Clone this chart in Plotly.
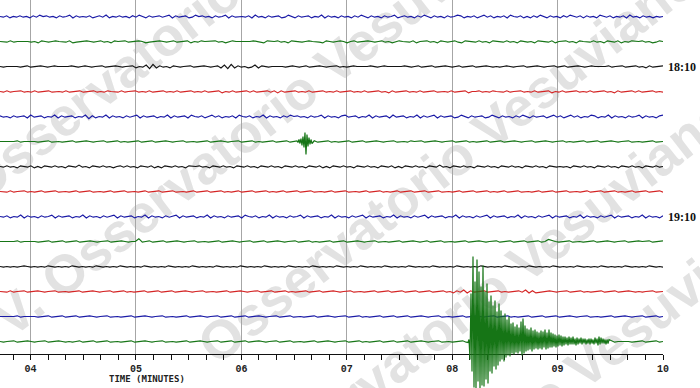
import numpy as np
import plotly.graph_objects as go

# ---------------- data ----------------
X_MIN, X_MAX = 3.71, 10.0            # minutes shown on the time axis
TICK_START, TICK_STEP = 4, 1         # labelled minutes 04 ... 10
MINOR_STEP = 1 / 6                   # 10-second ticks
ROW_COLORS = ["#1a1aa6", "#167516", "#141414", "#d42424"]   # blue, green, black, red
HOUR_ROWS = [2, 8]
HOUR_LABELS = ["18:10", "19:10"]
AXIS_TITLE = "TIME (MINUTES)"
WATERMARK = "Osservatorio Vesuviano"

# background noise of each trace, one digit per sample, offset = (digit - 4) noise steps
ROW_NOISE = [
    "4536453546352435463542635453643526453" "5463524635435426354365243546354263544"
    "5362546354365246354364526354635463524" "6354635426435463524635463542364536425"
    "3645362453646352463546352453635462453" "6453625463546454",
    "4453544345463454344536544345435463443" "5443465443454354436453444354653445443"
    "4563443546344543445634543464354434543" "5464344536443546345435634453546344535"
    "4634546344536443546344535463453645344" "3546534",
    "4544345435443454344543454345443544345" "4436452716354634544354434543627163546"
    "5263454434543454354434544354543445434" "5434454434543544354434543544354434545"
    "4345443544345443543544345434454354435" "44354635443",
    "4535443545354435445354435443545344535" "4435453544354535443545354436453544353"
    "5443536354435453544354535443545354435" "4635443545354435445354436443545344535"
    "4435453544364535443545354435463544353" "5443545",
    "3546354362543645263543645273645263546" "3542635436452635436245364253645362453"
    "6452635463524354635426354632543645263" "5436254364526354263543652463543652463"
    "5463524635436425364253645236452635463" "5426354632",
    "4454435443454435445443544345443544354" "5443544354434544354454435443454435443"
    "5454435443543454435443545443544354434" "5443544534435443454435443545443544354"
    "4345443544345443545443544354434544354" "45443544",
    "4535463453646345354634525463453546435" "3546345364634535463443546345354634535"
    "4634535463453546345364634535463453546" "3453646345354634525463453546345354634"
    "5354634535463454546345354634535463453" "546345354",
    "4453544354543544354454354435445435443" "5445435443544354454354435443545435443"
    "5443545435443544354454354435445435443" "5454354435443544354454354435443545435"
    "4435445435443544354454354435443545435" "44354435",
    "4536452635463542635436452635463542635" "4364526354635426354364526354635436245"
    "3645263546354263543645263546354263543" "6452635463542635436452635463542635436"
    "4526354635426354364526354635426354364" "52635463",
    "4454435443454435443544354434544354434" "5440543544354434544354454435443454435"
    "4435443454435443545443544354434544354" "4544354434543544354454435443454435443"
    "5443544354134544354454435443454435443" "4435443",
    "4545454345454534545453454545345454534" "5454534545453454545345454534545453454"
    "5453454545345454534545453454545345454" "5345454534545453454545345454534545453"
    "4545453454545345454534545453454545345" "454534545",
    "4453544354434544354454435443454435443" "5454435443544354434544354454435443454"
    "4354435443545443544354434544354454435" "4435443544354435443546352635443544354"
    "5443526365443454435443545443544354434" "545443544",
    "4454435443454435443544354434544354454" "4354434544354454435443454435443544354"
    "4345443544354454435443454435443545443" "5443544354434544354454435443454435443"
    "5454435443544354434544354454435443454" "43544354",
    "4544354434544354434545435443544354454" "4354434544354454435443454435443544354"
    "4345443544354454435443454435443545443" "5443544354434544354454435443454435443"
    "5454435443544354434544354454435443454" "43544354",
]

SAMPLE_DT = 1 / 105.4                # minutes per sample of the event records
EVENT_ROW = 5
EVENT_T0 = 6.537
EVENT_PX = [1, -2, 2, -3, 4, -5, 6, -9, 13, -7, 5, -4, 3, -2, 2]
QUAKE_ROW = 13
QUAKE_T0 = 8.150
QUAKE_PX = [
    1, -2, 18, -48, 30, -85, 46, -60, 48, -82,
    40, -70, 47, -55, 44, -76, 45, -50, 38, -58,
    42, -40, 30, -46, 32, -36, 25, -41, 28, -30,
    24, -38, 20, -31, 18, -26, 20, -28, 16, -22,
    14, -25, 15, -18, 12, -19, 13, -15, 11, -17,
    12, -14, 10, -20, 14, -23, 12, -16, 10, -13,
    9, -12, 8, -14, 10, -11, 8, -12, 7, -10,
    8, -9, 7, -11, 8, -10, 6, -12, 8, -9,
    7, -12, 6, -9, 6, -8, 5, -7, 6, -6,
    5, -7, 4, -6, 5, -5, 4, -5, 3, -4,
    4, -5, 3, -4, 3, -5, 3, -3, 4, -4,
    3, -3, 2, -4, 3, -3, 2, -3, 3, -2,
    2, -3, 3, -3, 2, -2, 3, -4, 2, -3,
    4, -5, 3, -4, 2, -3, 2, -2, 3, -2,
    2, -2,
]

# ---------------- layout constants ----------------
W, H = 700, 388
PLOT_W = 663           # plot area width in px
AXIS_Y_PX = 354        # x-axis line position (px from top)
ROW0_PX = 16.5         # first trace baseline (px from top)
PX_PER_ROW = 25.0
NOISE_PX = 0.7         # px per noise step

events = {EVENT_ROW: [(EVENT_T0, EVENT_PX)], QUAKE_ROW: [(QUAKE_T0, QUAKE_PX)]}

fig = go.Figure()
# empty trace so the axis/grid subplot exists
fig.add_trace(go.Scatter(x=[], y=[], xaxis="x", yaxis="y", showlegend=False, hoverinfo="skip"))

for i, s in enumerate(ROW_NOISE):
    off = np.array([int(c) - 4 for c in s], dtype=float) * NOISE_PX
    xs = np.linspace(X_MIN, X_MAX, len(off))
    for t0, vals in events.get(i, []):
        ex = t0 + np.arange(len(vals)) * SAMPLE_DT
        keep = (xs < ex[0]) | (xs > ex[-1])
        xs = np.concatenate([xs[keep], ex])
        off = np.concatenate([off[keep], np.array(vals, dtype=float)])
        order = np.argsort(xs, kind="stable")
        xs, off = xs[order], off[order]
    fig.add_trace(go.Scatter(
        x=xs, y=i + off / PX_PER_ROW, mode="lines",
        line=dict(color=ROW_COLORS[i % 4], width=1.2),
        xaxis="x2", yaxis="y2", showlegend=False, hoverinfo="skip"))

# watermark stripes (start px, text)
ang = np.deg2rad(38)
wm_font = dict(family="Liberation Sans", size=54, color="#e2e2e2", weight="bold")
stripes = [(-35, 187, WATERMARK, 620), (-7, 323, "V. " + WATERMARK, 686),
           (200, 349, WATERMARK, 620), (235, 482, WATERMARK, 620), (293, 588, WATERMARK, 620)]
for sx, sy, txt, L in stripes:
    ex_, ey_ = sx + L * np.cos(ang), sy - L * np.sin(ang)
    fig.add_shape(type="line", xref="paper", yref="paper",
                  x0=sx / PLOT_W, y0=1 - sy / H, x1=ex_ / PLOT_W, y1=1 - ey_ / H,
                  line=dict(color="rgba(0,0,0,0)", width=0), layer="below",
                  label=dict(text=txt, font=wm_font, textposition="middle",
                             yanchor="middle", padding=0))

for r, lab in zip(HOUR_ROWS, HOUR_LABELS):
    fig.add_annotation(x=1, xref="paper", y=r, yref="y2", text=lab, showarrow=False,
                       xanchor="left", xshift=3, yanchor="middle",
                       font=dict(family="Liberation Serif", size=12, color="#111", weight="bold"))

fig.add_annotation(x=147 / PLOT_W, xref="paper", y=1 - 379 / H, yref="paper", text=AXIS_TITLE,
                   showarrow=False, xanchor="center", yanchor="middle",
                   font=dict(family="DejaVu Sans Mono", size=9, color="#222", weight="bold"))

fig.update_layout(
    width=W, height=H, autosize=False,
    margin=dict(l=0, r=W - PLOT_W, t=0, b=0, pad=0),
    paper_bgcolor="white", plot_bgcolor="rgba(0,0,0,0)", showlegend=False,
    xaxis=dict(domain=[0, 1], range=[X_MIN, X_MAX], anchor="y", automargin=False,
               tickmode="linear", tick0=TICK_START, dtick=TICK_STEP, tickformat="02d",
               showgrid=True, gridcolor="#a6a6a6", gridwidth=1, zeroline=False,
               showline=True, linecolor="#111", linewidth=1,
               ticks="outside", ticklen=5, tickcolor="#111",
               tickfont=dict(family="Liberation Mono", size=10, color="#222", weight="bold"),
               minor=dict(tick0=TICK_START, dtick=MINOR_STEP, ticks="outside", ticklen=5,
                          tickcolor="#111", showgrid=False),
               fixedrange=True),
    yaxis=dict(domain=[(H - AXIS_Y_PX) / H, 1], range=[0, 1], visible=False, anchor="x",
               automargin=False, fixedrange=True),
    xaxis2=dict(domain=[0, 1], range=[X_MIN, X_MAX], anchor="y2", visible=False,
                automargin=False, fixedrange=True),
    yaxis2=dict(domain=[0, 1], range=[(H - ROW0_PX) / PX_PER_ROW, -ROW0_PX / PX_PER_ROW],
                anchor="x2", visible=False, automargin=False, fixedrange=True),
)

fig.write_html("out.html", config={"displayModeBar": False},
               post_script="document.body.style.margin='0';document.body.style.overflow='hidden';")
